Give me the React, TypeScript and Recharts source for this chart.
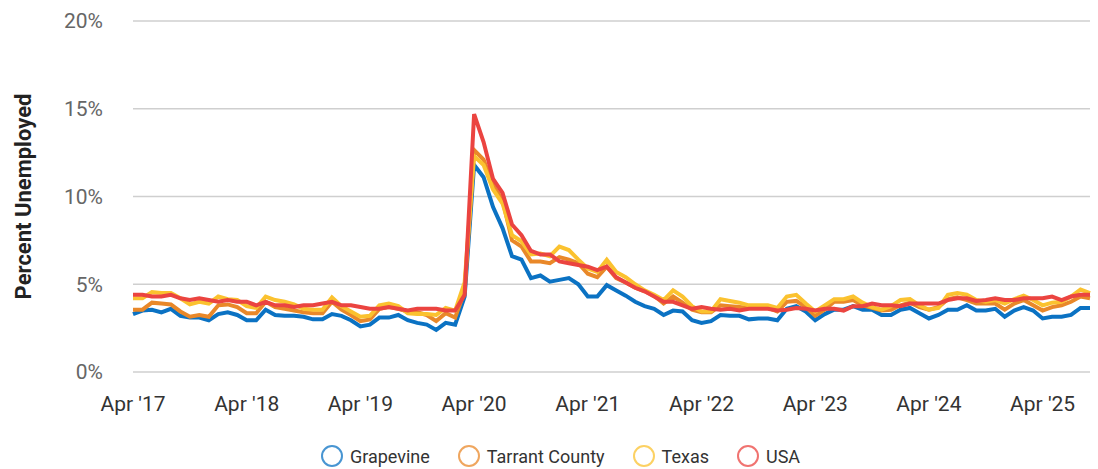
import { CartesianGrid, Legend, Line, LineChart, XAxis, YAxis } from "recharts";

const MONTH_NAMES = ["Jan", "Feb", "Mar", "Apr", "May", "Jun", "Jul", "Aug", "Sep", "Oct", "Nov", "Dec"];

// Apr 2017 .. Sep 2025, monthly
const months = Array.from({ length: 102 }, (_, i) => {
  const m = (3 + i) % 12;
  const y = 2017 + Math.floor((3 + i) / 12);
  return `${MONTH_NAMES[m]} '${String(y).slice(2)}`;
});

const xTicks = ["Apr '17", "Apr '18", "Apr '19", "Apr '20", "Apr '21", "Apr '22", "Apr '23", "Apr '24", "Apr '25"];
const yTicks = [0, 5, 10, 15, 20];

const grapevine = [
  3.3, 3.5, 3.55, 3.4, 3.6, 3.2, 3.1, 3.1, 2.95, 3.3, 3.4, 3.25,
  2.95, 2.95, 3.55, 3.25, 3.2, 3.2, 3.15, 3.0, 3.0, 3.3, 3.2, 2.95,
  2.6, 2.7, 3.1, 3.1, 3.25, 2.95, 2.8, 2.7, 2.4, 2.8, 2.7, 4.3,
  11.8, 11.1, 9.4, 8.2, 6.6, 6.4, 5.35, 5.5, 5.15, 5.25, 5.35, 5.0,
  4.3, 4.3, 4.95, 4.65, 4.35, 4.0, 3.75, 3.6, 3.25, 3.5, 3.45, 2.95,
  2.8, 2.9, 3.25, 3.2, 3.2, 3.0, 3.05, 3.05, 2.95, 3.6, 3.75, 3.45,
  2.95, 3.3, 3.55, 3.55, 3.75, 3.55, 3.55, 3.25, 3.25, 3.55, 3.65, 3.35,
  3.05, 3.25, 3.55, 3.55, 3.8, 3.5, 3.5, 3.6, 3.15, 3.5, 3.7, 3.5,
  3.05, 3.15, 3.15, 3.25, 3.65, 3.65,
];

const tarrant = [
  3.55, 3.55, 3.95, 3.9, 3.85, 3.45, 3.15, 3.25, 3.15, 3.8, 3.85, 3.7,
  3.35, 3.35, 4.0, 3.7, 3.6, 3.5, 3.4, 3.35, 3.35, 4.0, 3.55, 3.25,
  2.9, 3.0, 3.6, 3.7, 3.6, 3.45, 3.4, 3.25, 2.9, 3.35, 3.1, 4.6,
  12.65, 12.1, 10.65, 9.8, 7.5, 7.15, 6.3, 6.3, 6.2, 6.55, 6.4, 6.2,
  5.6, 5.4, 6.0, 5.35, 5.1, 4.8, 4.6, 4.35, 3.9, 4.3, 3.95, 3.55,
  3.4, 3.4, 3.8, 3.75, 3.7, 3.65, 3.65, 3.65, 3.45, 4.0, 4.05, 3.7,
  3.2, 3.55, 4.0, 4.0, 4.1, 3.8, 3.65, 3.5, 3.55, 3.8, 3.95, 3.7,
  3.55, 3.7, 4.15, 4.25, 4.1, 3.9, 3.9, 3.9, 3.55, 3.9, 4.1, 3.8,
  3.5, 3.7, 3.8, 4.0, 4.3, 4.2,
];

const texas = [
  4.2, 4.2, 4.55, 4.5, 4.5, 4.2, 3.85, 4.0, 3.9, 4.3, 4.15, 4.1,
  3.75, 3.65, 4.3, 4.1, 4.0, 3.85, 3.6, 3.55, 3.55, 4.25, 3.75, 3.45,
  3.15, 3.2, 3.8, 3.9, 3.75, 3.35, 3.3, 3.3, 3.25, 3.65, 3.5, 5.1,
  12.3, 11.8, 10.4, 9.6, 7.8, 7.45, 6.7, 6.75, 6.6, 7.15, 6.95, 6.4,
  5.9, 5.7, 6.4, 5.7, 5.4, 5.0, 4.65, 4.4, 4.1, 4.65, 4.3, 3.75,
  3.45, 3.45, 4.15, 4.05, 3.95, 3.8, 3.8, 3.8, 3.65, 4.3, 4.4, 3.9,
  3.45, 3.8, 4.15, 4.15, 4.3, 3.95, 3.7, 3.55, 3.75, 4.1, 4.15, 3.8,
  3.55, 3.65, 4.4, 4.5, 4.4, 4.1, 4.0, 4.1, 3.9, 4.15, 4.35, 4.1,
  3.8, 3.95, 4.0, 4.3, 4.7, 4.5,
];

const usa = [
  4.4, 4.4, 4.3, 4.3, 4.4, 4.2, 4.1, 4.2, 4.1, 4.0, 4.1, 4.0,
  4.0, 3.8, 4.0, 3.8, 3.8, 3.7, 3.8, 3.8, 3.9, 4.0, 3.8, 3.8,
  3.7, 3.6, 3.6, 3.7, 3.6, 3.5, 3.6, 3.6, 3.6, 3.5, 3.5, 4.4,
  14.7, 13.1, 11.0, 10.2, 8.4, 7.8, 6.9, 6.7, 6.7, 6.3, 6.2, 6.1,
  6.0, 5.8, 6.0, 5.4, 5.1, 4.8, 4.6, 4.3, 4.0, 4.0, 3.8, 3.6,
  3.7, 3.6, 3.55, 3.6, 3.5, 3.6, 3.6, 3.6, 3.5, 3.55, 3.65, 3.6,
  3.5, 3.6, 3.6, 3.5, 3.75, 3.75, 3.9, 3.8, 3.8, 3.75, 3.9, 3.9,
  3.9, 3.9, 4.1, 4.2, 4.2, 4.05, 4.1, 4.2, 4.1, 4.1, 4.2, 4.2,
  4.2, 4.3, 4.1, 4.3, 4.4, 4.4,
];

const series = [
  { key: "grapevine", name: "Grapevine", color: "#0b72c3" },
  { key: "tarrant", name: "Tarrant County", color: "#e98829" },
  { key: "texas", name: "Texas", color: "#fbc22f" },
  { key: "usa", name: "USA", color: "#eb4440" },
];

const data = months.map((month, i) => ({
  month,
  grapevine: grapevine[i],
  tarrant: tarrant[i],
  texas: texas[i],
  usa: usa[i],
}));

const FONT = "Roboto, sans-serif";

function LegendContent() {
  return (
    <div style={{ display: "flex", justifyContent: "center", alignItems: "center", height: 26, paddingLeft: 22, fontFamily: FONT }}>
      {series.map((s) => (
        <div key={s.key} style={{ display: "flex", alignItems: "center", margin: "0 13.5px" }}>
          <svg width={24} height={24} style={{ marginRight: 6 }}>
            <circle cx={12} cy={12} r={10} fill="none" stroke={s.color} strokeOpacity={0.75} strokeWidth={2} />
          </svg>
          <span style={{ fontSize: 18, color: "#333" }}>{s.name}</span>
        </div>
      ))}
    </div>
  );
}

function YLabel({ viewBox }: any) {
  const x = viewBox.x + 31;
  const y = viewBox.y + viewBox.height / 2;
  return (
    <text x={x} y={y} transform={`rotate(-90 ${x} ${y})`} textAnchor="middle" fontFamily={FONT} fontWeight={700} fontSize={22} fill="#222">
      Percent Unemployed
    </text>
  );
}

export default function App() {
  return (
    <div style={{ position: "absolute", left: 0, top: 0 }}>
      <LineChart width={1098} height={469} data={data} margin={{ top: 21, right: 8, bottom: 0, left: 0 }}>
        <CartesianGrid vertical={false} stroke="#cfcfcf" strokeWidth={1.5} />
        <XAxis
          dataKey="month"
          ticks={xTicks}
          interval={0}
          axisLine={false}
          tickLine={false}
          tickSize={0}
          tickMargin={24}
          height={71}
          tick={{ fill: "#333", fontSize: 21, fontFamily: FONT }}
        />
        <YAxis
          domain={[0, 20]}
          ticks={yTicks}
          tickFormatter={(v) => `${v}%`}
          axisLine={false}
          tickLine={false}
          tickSize={0}
          tickMargin={30}
          width={133}
          tick={{ fill: "#666", fontSize: 21, fontFamily: FONT }}
          label={<YLabel />}
        />
        <Legend verticalAlign="bottom" height={26} content={<LegendContent />} wrapperStyle={{ left: 0, width: 1098, height: 26 }} />
        {series.map((s) => (
          <Line
            key={s.key}
            type="linear"
            dataKey={s.key}
            name={s.name}
            stroke={s.color}
            strokeWidth={4}
            dot={false}
            activeDot={false}
            isAnimationActive={false}
          />
        ))}
      </LineChart>
    </div>
  );
}
